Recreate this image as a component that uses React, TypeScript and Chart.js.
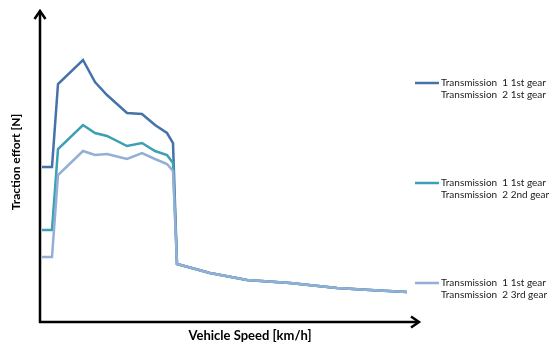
import React, { useEffect, useRef } from "react";
import { Chart, registerables } from "chart.js";

Chart.register(...registerables);

// Vehicle speed [km/h] at each sampled point
const speed = [1, 6, 9, 21.5, 27.5, 33.5, 43.5, 51, 57.5, 63.5, 66.5, 68.5, 85, 103.5, 125, 148.5, 165, 183.5];
// Traction effort [N]
const gear1 = [7750, 7750, 11900, 13100, 12000, 11350, 10450, 10400, 9850, 9450, 8950, 2900, 2450, 2100, 1950, 1700, 1600, 1500];
const gear2 = [4600, 4600, 8650, 9850, 9450, 9300, 8800, 8950, 8550, 8350, 7950, 2900, 2450, 2100, 1950, 1700, 1600, 1500];
const gear3 = [3250, 3250, 7350, 8550, 8350, 8400, 8150, 8450, 8150, 7900, 7550, 2900, 2450, 2100, 1950, 1700, 1600, 1500];

const seriesColors = ["#4672aa", "#3c9fb2", "#93afd6"];
const legendLine1 = ["Transmission  1 1st gear", "Transmission  1 1st gear", "Transmission  1 1st gear"];
const legendLine2 = ["Transmission  2 1st gear", "Transmission  2 2nd gear", "Transmission  2 3rd gear"];
const xTitle = "Vehicle Speed [km/h]";
const yTitle = "Traction effort [N]";

const X_MAX = 190;
const Y_MAX = 15600;

function arrowHead(ctx: CanvasRenderingContext2D, tx: number, ty: number, dir: "up" | "right") {
  ctx.beginPath();
  if (dir === "up") {
    ctx.moveTo(tx - 5.5, ty + 9);
    ctx.lineTo(tx, ty + 1);
    ctx.lineTo(tx + 5.5, ty + 9);
  } else {
    ctx.moveTo(tx - 9, ty - 5.5);
    ctx.lineTo(tx - 1, ty);
    ctx.lineTo(tx - 9, ty + 5.5);
  }
  ctx.stroke();
}

const decorPlugin = {
  id: "decor",
  afterDraw(chart: any) {
    const ctx: CanvasRenderingContext2D = chart.ctx;
    const xs = chart.scales.x;
    const ys = chart.scales.y;
    const x0 = xs.getPixelForValue(0);
    const y0 = ys.getPixelForValue(0);
    const xEnd = xs.getPixelForValue(X_MAX);
    const yTop = ys.getPixelForValue(Y_MAX);
    ctx.save();
    ctx.strokeStyle = "#000";
    ctx.lineWidth = 2.5;
    ctx.lineCap = "butt";
    ctx.lineJoin = "miter";
    // y axis
    ctx.beginPath();
    ctx.moveTo(x0, y0 + 1);
    ctx.lineTo(x0, yTop + 2);
    ctx.stroke();
    arrowHead(ctx, x0, yTop, "up");
    // x axis
    ctx.beginPath();
    ctx.moveTo(x0 - 1, y0);
    ctx.lineTo(xEnd - 2, y0);
    ctx.stroke();
    arrowHead(ctx, xEnd, y0, "right");

    // axis titles
    ctx.fillStyle = "#000";
    ctx.textAlign = "center";
    ctx.textBaseline = "middle";
    ctx.font = "bold 13px Lato, 'Open Sans', sans-serif";
    ctx.fillText(xTitle, 250, 336);
    ctx.font = "bold 12px Lato, 'Open Sans', sans-serif";
    ctx.save();
    ctx.translate(16, 162);
    ctx.rotate(-Math.PI / 2);
    ctx.fillText(yTitle, 0, 0);
    ctx.restore();

    // legend
    ctx.font = "10px Lato, 'Open Sans', sans-serif";
    ctx.textAlign = "left";
    ctx.fillStyle = "#1a1a1a";
    for (let i = 0; i < seriesColors.length; i++) {
      const ly = 83 + i * 100;
      ctx.strokeStyle = seriesColors[i];
      ctx.lineWidth = 2.5;
      ctx.beginPath();
      ctx.moveTo(415, ly);
      ctx.lineTo(439, ly);
      ctx.stroke();
      ctx.fillText(legendLine1[i], 441, ly);
      ctx.fillText(legendLine2[i], 441, ly + 11.5);
    }
    ctx.restore();
  },
};

export default function App() {
  const canvasRef = useRef<HTMLCanvasElement | null>(null);
  useEffect(() => {
    if (!canvasRef.current) return;
    const mk = (vals: number[]) => speed.map((x, i) => ({ x, y: vals[i] }));
    const chart = new Chart(canvasRef.current, {
      type: "line",
      data: {
        datasets: [
          { label: legendLine2[0], data: mk(gear1), borderColor: seriesColors[0], order: 2 },
          { label: legendLine2[1], data: mk(gear2), borderColor: seriesColors[1], order: 1 },
          { label: legendLine2[2], data: mk(gear3), borderColor: seriesColors[2], order: 0 },
        ].map((d) => ({ ...d, borderWidth: 2.5, pointRadius: 0, fill: false, tension: 0 })),
      },
      options: {
        animation: false,
        responsive: true,
        maintainAspectRatio: false,
        layout: { padding: { left: 40, right: 137, top: 10, bottom: 23 } },
        scales: {
          x: { type: "linear", min: 0, max: X_MAX, display: false },
          y: { type: "linear", min: 0, max: Y_MAX, display: false },
        },
        plugins: { legend: { display: false }, tooltip: { enabled: false } },
      },
      plugins: [decorPlugin],
    });
    return () => chart.destroy();
  }, []);
  return (
    <div style={{ position: "fixed", left: 0, top: 0, width: 557, height: 345, background: "#fff" }}>
      <canvas ref={canvasRef} />
    </div>
  );
}
